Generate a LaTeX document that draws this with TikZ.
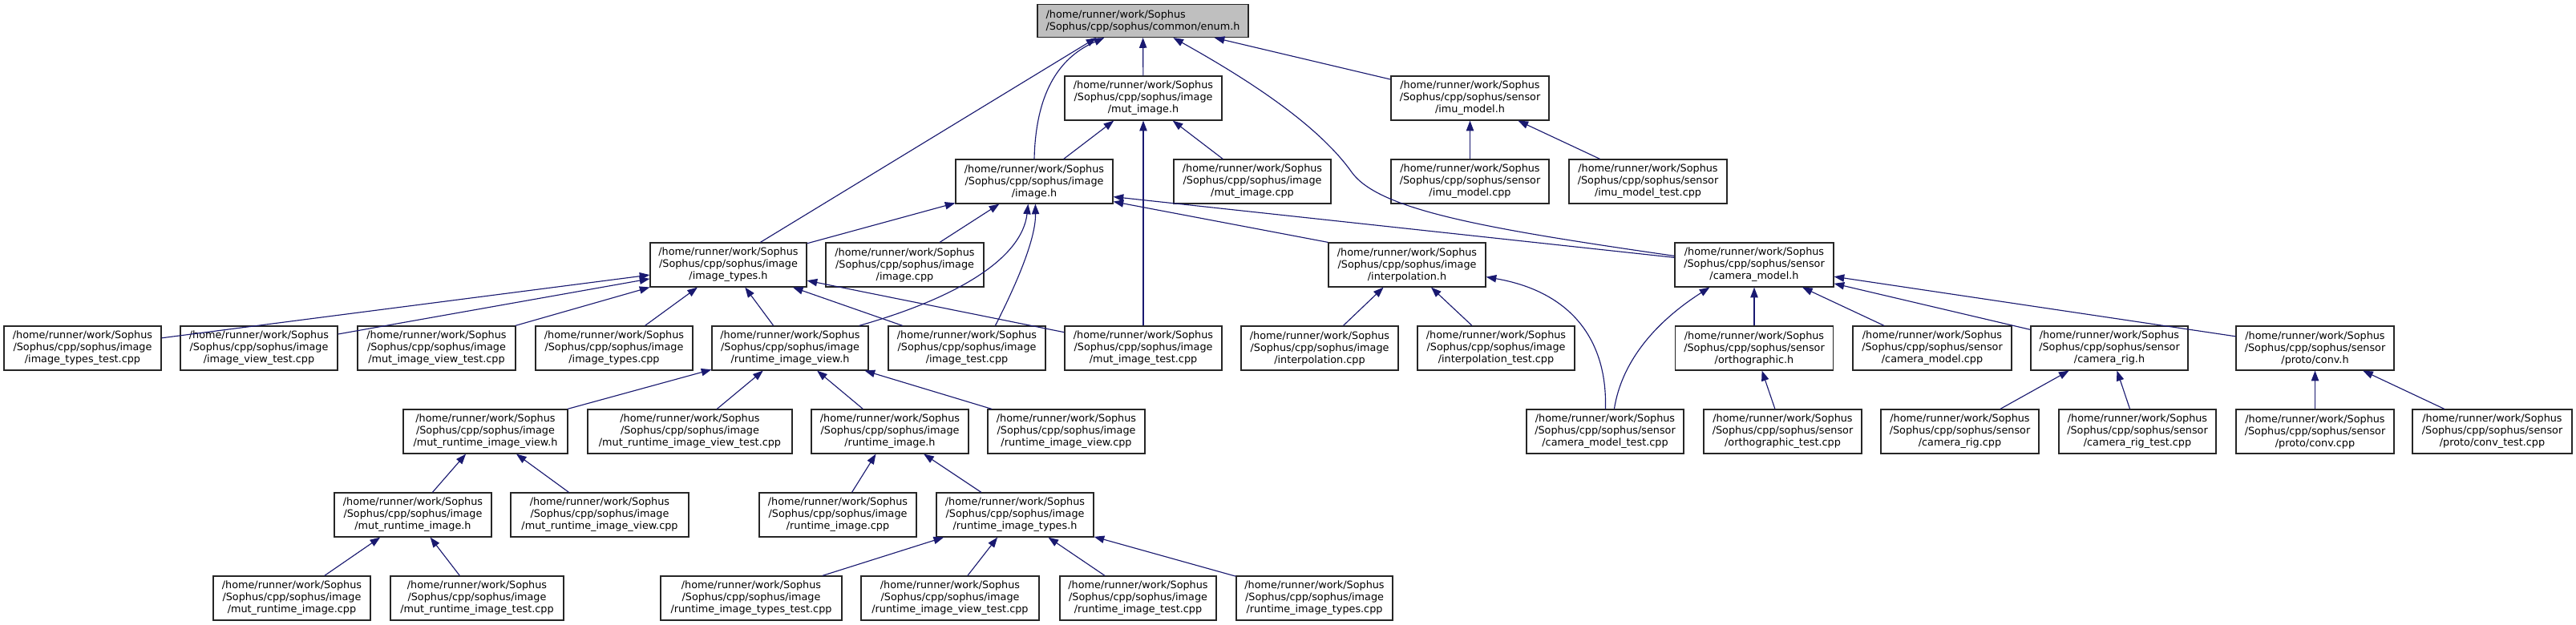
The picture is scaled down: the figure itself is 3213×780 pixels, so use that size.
\documentclass[tikz,border=0pt]{standalone}
\usepackage{fontspec}
\setmainfont{DejaVu Sans}
\usetikzlibrary{arrows.meta,calc}
\definecolor{edgeblue}{HTML}{191970}
\definecolor{enumgray}{HTML}{BFBFBF}
\newcommand\nodefont{\fontsize{9.6pt}{11.25pt}\selectfont}
\newcommand\fimg[1]{/home/runner/work/Sophus\\/Sophus/cpp/sophus/image\\/#1}
\newcommand\fsen[1]{/home/runner/work/Sophus\\/Sophus/cpp/sophus/sensor\\/#1}
\tikzset{
  nd/.style={draw=black!85, fill=white, line width=0.9pt, minimum height=41.25pt,
    inner sep=0pt, align=center, font=\nodefont},
  wd/.style={minimum width={#1*0.75pt}},
  ed/.style={draw=edgeblue, line width=0.85pt, -{Triangle[length=9.5pt,width=7pt]}}
}
\begin{document}
\begin{tikzpicture}[x=0.75pt,y=-0.75pt]
\useasboundingbox (0,0) rectangle (3213,780);
% row 1
\node[nd, wd=263, fill=enumgray, align=left, minimum height=30.75pt] (enum) at (1425.5,26) {/home/runner/work/Sophus\\/Sophus/cpp/sophus/common/enum.h};
% row 2
\node[nd, wd=196] (mutimgh) at (1426,122.5) {\fimg{mut\_image.h}};
\node[nd, wd=197] (imuh) at (1833.5,122.5) {\fsen{imu\_model.h}};
% row 3
\node[nd, wd=196] (imageh) at (1290,226.5) {\fimg{image.h}};
\node[nd, wd=196] (mutimgcpp) at (1562,226.5) {\fimg{mut\_image.cpp}};
\node[nd, wd=197] (imucpp) at (1833.5,226.5) {\fsen{imu\_model.cpp}};
\node[nd, wd=197] (imutest) at (2055.5,226.5) {\fsen{imu\_model\_test.cpp}};
% row 4
\node[nd, wd=195] (imgtypesh) at (908.5,330.5) {\fimg{image\_types.h}};
\node[nd, wd=197] (imagecpp) at (1128.5,330.5) {\fimg{image.cpp}};
\node[nd, wd=196] (interph) at (1755,330.5) {\fimg{interpolation.h}};
\node[nd, wd=198] (cammodelh) at (2188,330.5) {\fsen{camera\_model.h}};
% row 5
\node[nd, wd=196] (imgtypestest) at (103,434.5) {\fimg{image\_types\_test.cpp}};
\node[nd, wd=196] (imgviewtest) at (323,434.5) {\fimg{image\_view\_test.cpp}};
\node[nd, wd=197] (mutimgviewtest) at (544.5,434.5) {\fimg{mut\_image\_view\_test.cpp}};
\node[nd, wd=196] (imgtypescpp) at (766,434.5) {\fimg{image\_types.cpp}};
\node[nd, wd=195] (rtviewh) at (985.5,434.5) {\fimg{runtime\_image\_view.h}};
\node[nd, wd=196] (imgtest) at (1206,434.5) {\fimg{image\_test.cpp}};
\node[nd, wd=196] (mutimgtest) at (1426,434.5) {\fimg{mut\_image\_test.cpp}};
\node[nd, wd=196] (interpcpp) at (1646,434.5) {\fimg{interpolation.cpp}};
\node[nd, wd=196] (interptest) at (1866,434.5) {\fimg{interpolation\_test.cpp}};
\node[nd, wd=197] (orthoh) at (2188,434.5) {\fsen{orthographic.h}};
\node[nd, wd=198] (cammodelcpp) at (2410,434.5) {\fsen{camera\_model.cpp}};
\node[nd, wd=196] (camrigh) at (2631,434.5) {\fsen{camera\_rig.h}};
\node[nd, wd=197] (convh) at (2887.5,434.5) {\fsen{proto/conv.h}};
% row 6
\node[nd, wd=205] (mutrtviewh) at (605.5,538.5) {\fimg{mut\_runtime\_image\_view.h}};
\node[nd, wd=255] (mutrtviewtest) at (860.5,538.5) {\fimg{mut\_runtime\_image\_view\_test.cpp}};
\node[nd, wd=196] (rtimgh) at (1110,538.5) {\fimg{runtime\_image.h}};
\node[nd, wd=196] (rtviewcpp) at (1330,538.5) {\fimg{runtime\_image\_view.cpp}};
\node[nd, wd=196] (cammodeltest) at (2002,538.5) {\fsen{camera\_model\_test.cpp}};
\node[nd, wd=197] (orthotest) at (2223.5,538.5) {\fsen{orthographic\_test.cpp}};
\node[nd, wd=197] (camrigcpp) at (2444.5,538.5) {\fsen{camera\_rig.cpp}};
\node[nd, wd=196] (camrigtest) at (2666,538.5) {\fsen{camera\_rig\_test.cpp}};
\node[nd, wd=197] (convcpp) at (2887.5,538.5) {\fsen{proto/conv.cpp}};
\node[nd, wd=199] (convtest) at (3108.5,538.5) {\fsen{proto/conv\_test.cpp}};
% row 7
\node[nd, wd=196] (mutrtimgh) at (515,642.5) {\fimg{mut\_runtime\_image.h}};
\node[nd, wd=222] (mutrtviewcpp) at (748,642.5) {\fimg{mut\_runtime\_image\_view.cpp}};
\node[nd, wd=196] (rtimgcpp) at (1045,642.5) {\fimg{runtime\_image.cpp}};
\node[nd, wd=196] (rttypesh) at (1266,642.5) {\fimg{runtime\_image\_types.h}};
% row 8
\node[nd, wd=196] (mutrtimgcpp) at (364,746.5) {\fimg{mut\_runtime\_image.cpp}};
\node[nd, wd=216] (mutrttest) at (595,746.5) {\fimg{mut\_runtime\_image\_test.cpp}};
\node[nd, wd=226] (rttypestest) at (937,746.5) {\fimg{runtime\_image\_types\_test.cpp}};
\node[nd, wd=222] (rtviewtest) at (1185,746.5) {\fimg{runtime\_image\_view\_test.cpp}};
\node[nd, wd=195] (rttest) at (1419.5,746.5) {\fimg{runtime\_image\_test.cpp}};
\node[nd, wd=195] (rttypescpp) at (1639.5,746.5) {\fimg{runtime\_image\_types.cpp}};

% straight edges (child -> parent)
\foreach \c/\p in {mutimgh/enum, imuh/enum, imageh/mutimgh, mutimgcpp/mutimgh, mutimgtest/mutimgh,
  imucpp/imuh, imutest/imuh, imgtypesh/imageh, imagecpp/imageh,
  imgtypestest/imgtypesh, imgviewtest/imgtypesh, mutimgviewtest/imgtypesh, imgtypescpp/imgtypesh,
  rtviewh/imgtypesh, imgtest/imgtypesh, mutimgtest/imgtypesh,
  mutrtviewh/rtviewh, mutrtviewtest/rtviewh, rtimgh/rtviewh, rtviewcpp/rtviewh,
  mutrtimgh/mutrtviewh, mutrtviewcpp/mutrtviewh, mutrtimgcpp/mutrtimgh, mutrttest/mutrtimgh,
  rtimgcpp/rtimgh, rttypesh/rtimgh,
  rttypestest/rttypesh, rtviewtest/rttypesh, rttest/rttypesh, rttypescpp/rttypesh,
  interpcpp/interph, interptest/interph,
  orthoh/cammodelh, cammodelcpp/cammodelh, camrigh/cammodelh, convh/cammodelh,
  orthotest/orthoh, camrigcpp/camrigh, camrigtest/camrigh, convcpp/convh, convtest/convh}
  \draw[ed] (\c) -- (\p);

% special edges
\draw[ed] ($(imgtypesh.north west)+(138,0)$) -- ($(enum.south west)+(74,0)$);
\draw[ed] (imageh.north) .. controls (1292,110) and (1325,70) .. ($(enum.south west)+(84,0)$);
\draw[ed] ($(cammodelh.north west)+(0,17)$) .. controls (1850,285) and (1720,262) .. (1686,215)
   .. controls (1640,150) and (1540,90) .. ($(enum.south west)+(170,0)$);
\draw[ed] ($(cammodelh.north west)+(0,19)$) -- ($(imageh.south east)+(0,-9)$);
\draw[ed] (interph.north west) -- ($(imageh.south east)+(0,-3)$);
\draw[ed] ($(rtviewh.north east)+(-12,0)$) .. controls (1200,370) and (1275,320) .. ($(imageh.south west)+(91,0)$);
\draw[ed] ($(imgtest.north west)+(134,0)$) .. controls (1265,360) and (1292,300) .. ($(imageh.south west)+(100,0)$);
\draw[ed] ($(cammodeltest.north west)+(99,0)$) .. controls (2005,430) and (1965,365) .. ($(interph.south east)+(0,-13)$);
\draw[ed] ($(cammodeltest.north west)+(110,0)$) .. controls (2022,455) and (2060,405) .. ($(cammodelh.south west)+(44,0)$);
\end{tikzpicture}
\end{document}
